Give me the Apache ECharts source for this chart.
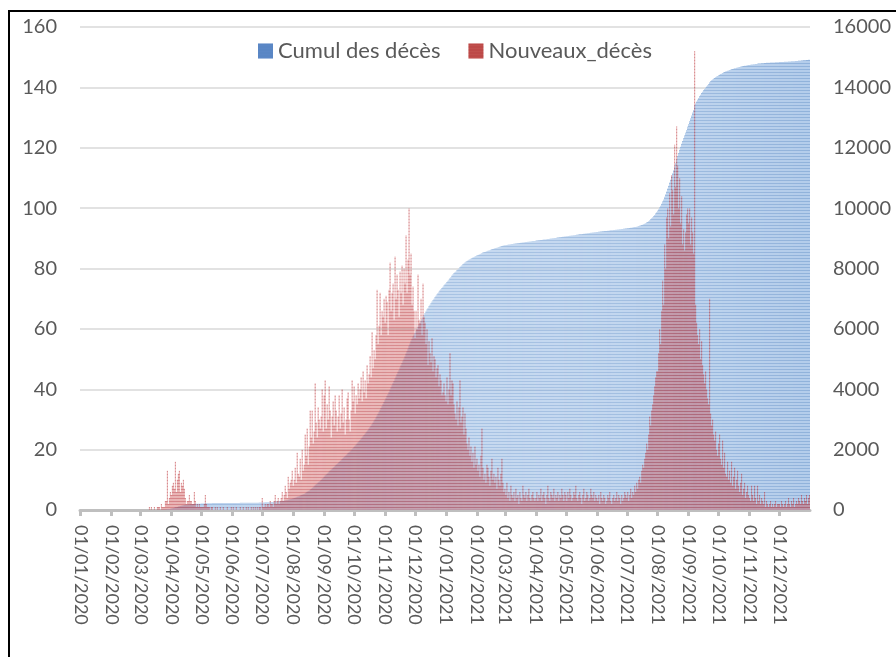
<!DOCTYPE html>
<html>
<head>
<meta charset="utf-8">
<script src="https://cdn.jsdelivr.net/npm/echarts@6/dist/echarts.min.js"></script>
<style>
html,body{margin:0;padding:0;background:#fff;}
#chart{width:896px;height:657px;}
</style>
</head>
<body>
<div id="chart"></div>
<script>
// Daily new deaths, 2020 (Jan..Dec, one line per month)
const nouveaux2020 = [
0,0,0,0,0,0,0,0,0,0,0,0,0,0,0,0,0,0,0,0,0,0,0,0,0,0,0,0,0,0,0,
0,0,0,0,0,0,0,0,0,0,0,0,0,0,0,0,0,0,0,0,0,0,0,0,0,0,0,0,0,
0,0,0,0,0,0,0,0,0,1,0,1,0,0,1,0,0,1,1,1,0,2,1,1,1,3,3,13,2,4,6,
5,8,9,7,16,6,10,12,13,6,9,8,10,7,4,2,3,3,5,3,3,2,2,6,3,1,2,1,2,1,
1,1,1,2,5,2,1,1,1,0,1,1,0,0,1,0,1,0,0,1,0,0,1,0,0,0,1,0,0,0,1,
0,1,0,0,1,0,0,0,1,0,0,1,0,0,1,0,1,0,0,1,0,1,0,1,0,1,0,1,1,0,
4,1,1,2,1,2,2,1,3,2,2,1,3,5,2,3,4,2,3,4,6,3,5,8,6,4,11,7,9,10,13,
8,10,14,9,19,12,11,17,10,20,13,15,25,18,27,15,21,33,24,33,22,26,42,29,24,34,30,27,31,40,26,
38,43,27,35,30,41,33,24,31,36,28,38,33,26,31,38,27,32,40,29,34,25,30,37,39,30,26,33,43,36,
41,32,38,35,42,37,40,44,36,46,39,43,37,48,42,45,51,44,59,47,53,50,58,73,55,61,72,58,66,64,70,
62,71,69,58,73,82,66,72,75,63,84,70,78,73,64,79,72,81,68,80,75,91,72,83,100,78,85,68,74,66,
57,66,60,78,63,62,70,58,75,64,62,55,60,48,56,52,49,57,46,51,50,44,47,48,41,45,43,38,39,42,38
];
// Daily new deaths, 2021
const nouveaux2021 = [
36,44,35,40,52,38,43,42,35,32,30,36,28,34,43,29,31,34,25,32,27,22,20,24,18,21,16,19,14,21,15,
17,13,15,11,18,27,14,10,12,9,15,14,11,8,13,17,10,12,9,11,7,14,10,8,12,17,9,6,
7,5,9,4,6,3,8,5,4,6,3,7,4,5,2,6,4,3,8,5,4,6,3,5,7,4,3,5,6,4,3,
4,6,3,5,4,7,3,5,6,4,2,5,8,4,3,6,5,4,7,3,5,4,6,3,5,4,7,5,3,6,
5,3,6,4,7,5,3,4,6,5,8,4,3,5,6,4,2,5,7,3,4,6,5,3,4,7,5,4,6,3,5,
4,3,5,2,6,4,3,5,4,2,3,5,4,6,3,2,4,5,3,4,6,3,5,4,2,5,3,4,6,5,
4,6,3,5,7,4,6,5,8,6,9,7,10,11,9,13,15,14,17,19,22,20,25,31,28,33,35,38,41,44,46,
46,52,60,55,66,76,68,88,80,97,100,90,105,94,111,106,98,121,107,127,114,100,110,95,104,88,93,86,92,98,100,
95,100,88,97,92,85,152,68,62,58,55,60,50,56,48,45,42,46,40,37,35,70,32,28,30,25,23,26,20,18,
22,25,17,15,23,14,19,12,11,16,10,13,9,16,8,11,14,7,10,13,8,6,9,12,5,7,9,4,6,8,5,
4,3,8,5,3,8,4,2,8,3,5,2,4,3,2,6,1,3,2,1,2,3,1,2,1,2,3,1,2,2,
2,1,3,2,1,2,3,1,2,4,2,1,3,2,4,1,2,3,2,4,3,2,5,3,2,4,3,5,2,4,5
];
// Cumulative deaths, 2020
const cumul2020 = [
0,0,0,0,0,0,0,0,0,0,0,0,0,0,0,0,0,0,0,0,0,0,0,0,0,0,0,0,0,0,0,
0,0,0,0,0,0,0,0,0,0,0,0,0,0,0,0,0,0,0,0,0,0,0,0,0,0,0,0,0,
0,0,0,0,0,0,0,0,0,1,1,2,2,2,3,3,3,4,5,6,6,8,9,10,11,14,17,30,32,36,42,
47,55,64,71,87,93,103,115,128,134,143,151,161,168,172,174,177,180,185,188,191,193,195,201,204,205,207,208,210,211,
212,213,214,216,221,223,224,225,226,226,227,228,228,228,229,229,230,230,230,231,231,231,232,232,232,232,233,233,233,233,234,
234,235,235,235,236,236,236,236,237,237,237,238,238,238,239,239,240,240,240,241,241,242,242,243,243,244,244,245,246,246,
250,251,252,254,255,257,259,260,263,265,267,268,271,276,278,281,285,287,290,294,300,303,308,316,322,326,337,344,353,363,376,
384,394,408,417,436,448,459,476,486,506,519,534,559,577,604,619,640,673,697,730,752,778,820,849,873,907,937,964,995,1035,1061,
1099,1142,1169,1204,1234,1275,1308,1332,1363,1399,1427,1465,1498,1524,1555,1593,1620,1652,1692,1721,1755,1780,1810,1847,1886,1916,1942,1975,2018,2054,
2095,2127,2165,2200,2242,2279,2319,2363,2399,2445,2484,2527,2564,2612,2654,2699,2750,2794,2853,2900,2953,3003,3061,3134,3189,3250,3322,3380,3446,3510,3580,
3642,3713,3782,3840,3913,3995,4061,4133,4208,4271,4355,4425,4503,4576,4640,4719,4791,4872,4940,5020,5095,5186,5258,5341,5441,5519,5604,5672,5746,5812,
5869,5935,5995,6073,6136,6198,6268,6326,6401,6465,6527,6582,6642,6690,6746,6798,6847,6904,6950,7001,7051,7095,7142,7190,7231,7276,7319,7357,7396,7438,7476
];
// Cumulative deaths, 2021
const cumul2021 = [
7512,7556,7591,7631,7683,7721,7764,7806,7841,7873,7903,7939,7967,8001,8044,8073,8104,8138,8163,8195,8222,8244,8264,8288,8306,8327,8343,8362,8376,8397,8412,
8429,8442,8457,8468,8486,8513,8527,8537,8549,8558,8573,8587,8598,8606,8619,8636,8646,8658,8667,8678,8685,8699,8709,8717,8729,8746,8755,8761,
8768,8773,8782,8786,8792,8795,8803,8808,8812,8818,8821,8828,8832,8837,8839,8845,8849,8852,8860,8865,8869,8875,8878,8883,8890,8894,8897,8902,8908,8912,8915,
8919,8925,8928,8933,8937,8944,8947,8952,8958,8962,8964,8969,8977,8981,8984,8990,8995,8999,9006,9009,9014,9018,9024,9027,9032,9036,9043,9048,9051,9057,
9062,9065,9071,9075,9082,9087,9090,9094,9100,9105,9113,9117,9120,9125,9131,9135,9137,9142,9149,9152,9156,9162,9167,9170,9174,9181,9186,9190,9196,9199,9204,
9208,9211,9216,9218,9224,9228,9231,9236,9240,9242,9245,9250,9254,9260,9263,9265,9269,9274,9277,9281,9287,9290,9295,9299,9301,9306,9309,9313,9319,9324,
9328,9334,9337,9342,9349,9353,9359,9364,9372,9378,9387,9394,9404,9415,9424,9437,9452,9466,9483,9502,9524,9544,9569,9600,9628,9661,9696,9734,9775,9819,9865,
9911,9963,10023,10078,10144,10220,10288,10376,10456,10553,10653,10743,10848,10942,11053,11159,11257,11378,11485,11612,11726,11826,11936,12031,12135,12223,12316,12402,12494,12592,12692,
12787,12887,12975,13072,13164,13249,13401,13469,13531,13589,13644,13704,13754,13810,13858,13903,13945,13991,14031,14068,14103,14173,14205,14233,14263,14288,14311,14337,14357,14375,
14397,14422,14439,14454,14477,14491,14510,14522,14533,14549,14559,14572,14581,14597,14605,14616,14630,14637,14647,14660,14668,14674,14683,14695,14700,14707,14716,14720,14726,14734,14739,
14743,14746,14754,14759,14762,14770,14774,14776,14784,14787,14792,14794,14798,14801,14803,14809,14810,14813,14815,14816,14818,14821,14822,14824,14825,14827,14830,14831,14833,14835,
14837,14838,14841,14843,14844,14846,14849,14850,14852,14856,14858,14859,14862,14864,14868,14869,14871,14874,14876,14880,14883,14885,14890,14893,14895,14899,14902,14907,14909,14913,14918
];
const seriesNames = ['Cumul des décès', 'Nouveaux_décès'];
const leftTicks = {min: 0, max: 160, interval: 20};
const rightTicks = {min: 0, max: 16000, interval: 2000};

// Daily categories dd/mm/yyyy from 01/01/2020 to 31/12/2021
const categories = [];
for (let t = Date.UTC(2020, 0, 1); t <= Date.UTC(2021, 11, 31); t += 86400000) {
  const d = new Date(t);
  const dd = String(d.getUTCDate()).padStart(2, '0');
  const mm = String(d.getUTCMonth() + 1).padStart(2, '0');
  categories.push(dd + '/' + mm + '/' + d.getUTCFullYear());
}
const nouveaux = nouveaux2020.concat(nouveaux2021);
const cumul = cumul2020.concat(cumul2021);

const FONT = 'Lato';
const firstOfMonth = (i) => categories[i].startsWith('01/');

const chart = echarts.init(document.getElementById('chart'), null, {renderer: 'canvas'});
chart.setOption({
  animation: false,
  backgroundColor: '#ffffff',
  textStyle: {fontFamily: FONT},
  graphic: [{
    type: 'rect', silent: true, z: 100,
    shape: {x: 9, y: 11, width: 1000, height: 1000},
    style: {fill: 'none', stroke: '#000000', lineWidth: 2}
  }],
  legend: {
    left: 253, top: 35,
    itemWidth: 15, itemHeight: 15, itemGap: 28,
    textStyle: {fontFamily: FONT, fontSize: 22, color: '#595959'},
    data: [
      {name: seriesNames[0], icon: 'rect', itemStyle: {color: '#5b87c6'}},
      {name: seriesNames[1], icon: 'rect', itemStyle: {color: '#c0504d'}}
    ]
  },
  grid: {left: 80, right: 86, top: 27, bottom: 147},
  xAxis: {
    type: 'category',
    data: categories,
    boundaryGap: true,
    axisLine: {lineStyle: {color: '#bfbfbf', width: 3}},
    axisTick: {show: true, interval: firstOfMonth, alignWithLabel: true, length: 6, lineStyle: {color: '#bfbfbf', width: 3}},
    axisLabel: {interval: firstOfMonth, rotate: -90, margin: 15, fontFamily: FONT, fontSize: 18, color: '#595959'},
    splitLine: {show: false}
  },
  yAxis: [
    {
      type: 'value', position: 'left',
      min: leftTicks.min, max: leftTicks.max, interval: leftTicks.interval,
      axisLine: {show: false}, axisTick: {show: false},
      axisLabel: {margin: 23, fontFamily: FONT, fontSize: 20, color: '#595959'},
      splitLine: {lineStyle: {color: '#d9d9d9', width: 1.5}}
    },
    {
      type: 'value', position: 'right',
      min: rightTicks.min, max: rightTicks.max, interval: rightTicks.interval,
      axisLine: {show: false}, axisTick: {show: false},
      axisLabel: {margin: 23, fontFamily: FONT, fontSize: 20, color: '#595959', formatter: (v) => String(v)},
      splitLine: {show: false}
    }
  ],
  series: [
    {
      name: seriesNames[0], type: 'bar', yAxisIndex: 1,
      data: cumul,
      barCategoryGap: '0%', barGap: '-100%',
      itemStyle: {
        color: '#b4cdeb',
        decal: {symbol: 'rect', symbolSize: 1, color: 'rgba(79,129,189,0.35)', dashArrayX: [1, 0], dashArrayY: [1, 2], rotation: 0}
      },
      z: 1
    },
    {
      name: seriesNames[1], type: 'bar', yAxisIndex: 0,
      data: nouveaux,
      barCategoryGap: '0%', barGap: '-100%',
      itemStyle: {
        color: 'rgba(200,70,72,0.42)',
        decal: {symbol: 'rect', symbolSize: 1, color: 'rgba(175,40,50,0.35)', dashArrayX: [1, 0], dashArrayY: [1, 2], rotation: 0}
      },
      z: 2
    }
  ]
});
</script>
</body>
</html>
